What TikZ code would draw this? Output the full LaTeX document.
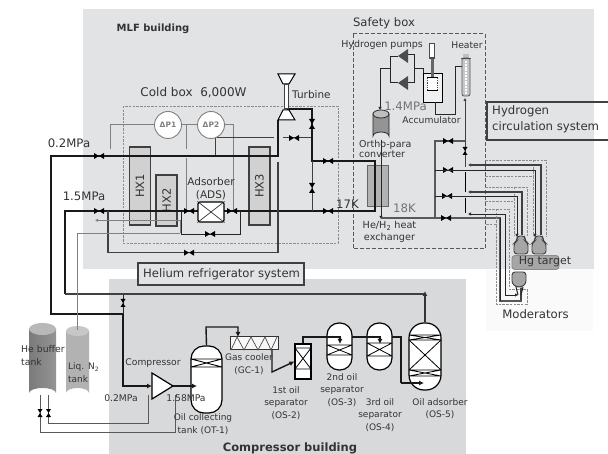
\documentclass[tikz,border=0pt]{standalone}
\usepackage{fontspec}
\setmainfont{DejaVu Sans}
\usetikzlibrary{arrows.meta}
\definecolor{mlfbg}{HTML}{E2E3E5}
\definecolor{compbg}{HTML}{D8D9DB}
\definecolor{pale}{HTML}{FAFAFA}
\definecolor{txt}{HTML}{333333}
\tikzset{
  lbl/.style={font=\fontsize{9.2}{11}\selectfont,text=txt,align=center,inner sep=0pt},
  lblbig/.style={font=\fontsize{11.7}{16}\selectfont,text=txt,align=left,inner sep=0pt},
  lblgray/.style={font=\fontsize{11.7}{12}\selectfont,text=black!55,inner sep=0pt},
  pipethick/.style={draw=black!90,line width=1.8pt},
  pipemid/.style={draw=black!75,line width=1.2pt},
  pipegray/.style={draw=black!50,line width=0.9pt},
  pipethin/.style={draw=black!85,line width=0.9pt},
  pipeflow/.style={draw=black!90,line width=1.4pt},
  dbox/.style={draw=black!45,line width=0.8pt,dash pattern=on 2.5pt off 1.2pt},
  sbox/.style={draw=black!65,line width=1pt,dash pattern=on 4pt off 2pt},
  hxbox/.style={draw=black!75,fill=black!18,line width=1.2pt,minimum width=21pt,inner sep=0pt,font=\fontsize{11.5}{12}\selectfont,text=txt},
  dpcirc/.style={circle,draw=black!50,fill=white,line width=0.9pt,minimum size=27pt,inner sep=0pt,font=\bfseries\fontsize{7.5}{8}\selectfont,text=black!50},
  vessel/.style={draw=black,fill=white,line width=1.2pt,inner sep=0pt},
  bulb/.style={draw=black!75,fill=black!35,line width=0.9pt,rounded corners=3pt},
  tip/.style={-{Latex[length=5pt,width=5pt]}},
  tipsmall/.style={-{Latex[length=3pt,width=3.5pt]}},
  vh/.pic={\fill[black] (-5,-3)--(5,3)--(5,-3)--(-5,3)--cycle;},
  vv/.pic={\fill[black] (-3,-5)--(3,5)--(-3,5)--(3,-5)--cycle;},
  vhs/.pic={\fill[black] (-4,-2.5)--(4,2.5)--(4,-2.5)--(-4,2.5)--cycle;},
  vvs/.pic={\fill[black] (-2.5,-4)--(2.5,4)--(-2.5,4)--(2.5,-4)--cycle;},
}
\begin{document}
\begin{tikzpicture}[x=1pt,y=-1pt]
\useasboundingbox (0,0) rectangle (608,454);
% building backgrounds
\fill[pale] (486,269) rectangle (593,331);
\fill[mlfbg] (83,9) rectangle (594,269);
\fill[compbg] (109,279) rectangle (466,454);
% boxes
\draw[dbox] (123,106) rectangle (338,243);
\draw[sbox] (353,34) rectangle (485,249);
\draw[draw=black!75,line width=1.2pt,fill=mlfbg] (138,263) rectangle (304,285);
\node[lbl,font=\fontsize{11.6}{12}\selectfont,anchor=west] (helium) at (143,274) {Helium refrigerator system};
\draw[draw=black!75,line width=1.2pt] (608,102) -- (487,102) -- (487,140) -- (608,140);
\node[lblbig,anchor=west] (hydsys) at (492,119) {Hydrogen\\circulation system};
% heat exchangers
\node[hxbox,minimum height=78pt] (hx1) at (140,186) {\rotatebox{90}{HX1}};
\node[hxbox,minimum height=51pt] (hx2) at (166.5,200.5) {\rotatebox{90}{HX2}};
\node[hxbox,minimum height=78pt] (hx3) at (259.5,186) {\rotatebox{90}{HX3}};
% gray signal lines
\draw[pipegray] (155,124) -- (110,124) -- (110,149);
\draw[pipegray] (181,124) -- (198,124);
\draw[pipegray] (186,124) -- (186,149) (186,158) -- (186,210);
\draw[pipegray] (224,124) -- (233,124) -- (233,210);
\draw[pipemid,line width=1pt] (215,137) -- (215,156);
\draw[pipemid,line width=1pt] (217,138) -- (274,138) (283,138) -- (312,138);
\node[dpcirc] (dp1) at (168,125) {ΔP1};
\node[dpcirc] (dp2) at (211,125) {ΔP2};
% 0.2 MPa line
\draw[pipethick] (123,314) -- (51,314) -- (51,156) -- (278,156) -- (278,120);
\draw[pipethin] (123,294) -- (123,314);
\draw[pipethick] (123,314) -- (123,386) -- (146,386);
\draw[pipethick,tip] (140,386) -- (152,386);
% 1.5 MPa line
\draw[pipethick] (65,294) -- (65,211) -- (198,211);
\draw[pipethick] (224,211) -- (375,211) -- (375,161) -- (312,161) -- (312,109) -- (287,109);
\draw[pipemid,line width=1pt] (312,161) -- (312,211);
\draw[pipemid] (65,294) -- (425,294);
% bypasses
\draw[pipemid] (108,211) -- (108,252.7) -- (278,252.7) -- (278,162);
\draw[pipethin] (181,211) -- (181,234) -- (240,234) -- (240,211);
\draw[pipegray,tipsmall] (180,233) -- (180,220.3) -- (95,220.3);
\draw[pipegray] (180,233) -- (77,233) -- (77,330);
% turbine
\draw[draw=black,line width=1pt,fill=white] (278,74) -- (295,74) -- (289,84) -- (283,84) -- cycle;
\draw[draw=black!75,fill=white,line width=0.9pt] (284,84) rectangle (288,108);
\draw[draw=black,line width=1pt,fill=white] (283,110) -- (289,110) -- (295,120) -- (278,120) -- cycle;
\node[lbl,anchor=west,font=\fontsize{10.5}{12}\selectfont] (turbine) at (292,95) {Turbine};
% adsorber
\node[draw=black,fill=white,rounded corners=2pt,line width=1.2pt,minimum width=26pt,minimum height=20pt,inner sep=0pt] (ads) at (211,212) {};
\draw[black!80,line width=0.7pt] (ads.north west) -- (ads.south east) (ads.north east) -- (ads.south west);
% valves on helium side
\pic at (99,156) {vh};
\pic at (99,211) {vh};
\pic at (189,211) {vh};
\pic at (232,211) {vh};
\pic at (210,234) {vh};
\pic at (189,252.7) {vh};
\pic at (294,138) {vh};
\pic at (312,124) {vv};
\pic at (328,161) {vh};
\pic at (312,188) {vv};
\pic at (328,211) {vh};
\pic at (123,303) {vvs};
\node[lbl,font=\fontsize{12}{12}\selectfont] (cold) at (193.5,93) {Cold box\ \ 6,000W};
\node[lblbig] (p02) at (69,143) {0.2MPa};
\node[lblbig] (p15) at (84,196) {1.5MPa};
\node[lbl,font=\fontsize{10.5}{13}\selectfont] (adslbl) at (211,189) {Adsorber\\(ADS)};
\node[lblgray,text=txt] (k17) at (347.5,204) {17K};
\node[lblgray] (k18) at (404.5,208) {18K};
\node[lbl,font=\bfseries\fontsize{10}{12}\selectfont] (mlf) at (153,29) {MLF building};
\node[lbl,font=\fontsize{11.6}{12}\selectfont] (safety) at (384,23) {Safety box};
% He/H2 exchanger
\node[draw=black!60,fill=black!30,line width=1pt,minimum width=21pt,minimum height=41pt,inner sep=0pt] (hehx) at (377.5,186.5) {};
\draw[pipethick] (375,161) -- (375,211);
% hydrogen loop
\draw[pipethin] (390,56) -- (390,82) -- (398,82);
\draw[pipethin] (390,56) -- (398,56);
\draw[pipethin] (407,54) -- (414,54) -- (414,82) -- (407,82);
\draw[pipethin] (414,68) -- (423,68) -- (423,73);
\draw[pipethin,tipsmall] (390,68) -- (380,68) -- (380,110);
\fill[black!70] (398,56) -- (408,49) -- (408,63) -- cycle;
\fill[black!70] (398,83) -- (408,76) -- (408,90) -- cycle;
% converter
\draw[draw=black!85,fill=black!42,line width=0.8pt] (373,114) -- (373,136) arc[x radius=8,y radius=4,start angle=180,end angle=360] -- (389,114) -- cycle;
\draw[draw=black!85,fill=black!25,line width=0.8pt] (381,114) ellipse[x radius=8,y radius=4];
\coordinate (conv) at (381,140);
\draw[pipethin,tipsmall] (conv) -- (381,219);
\draw[draw=black!65,line width=1.2pt] (381,218) -- (500,218) -- (500,301) -- (521,301) -- (521,288);
% accumulator
\node[draw=black,fill=black!6,line width=0.9pt,minimum width=19pt,minimum height=29pt,inner sep=0pt] (accum) at (432.5,87.5) {};
\fill[white] (427,78) rectangle (438,90);
\draw[black!70,line width=1.3pt,dash pattern=on 1pt off 0.8pt] (427.5,78) -- (427.5,90) (437.5,78) -- (437.5,90);
\draw[black,line width=0.8pt] (427,77) -- (438,77) (427,90) -- (438,90);
\fill[black!60] (430.5,59) rectangle (434,77);
\fill[black!70] (429,43) rectangle (435,59);
\fill[white] (430,44.5) rectangle (434,57.5);
% heater
\fill[black!25] (463,54) rectangle (469,59);
\node[draw=black!65,fill=black!22,rounded corners=2pt,line width=0.8pt,minimum width=8pt,minimum height=38pt,inner sep=0pt] (heater) at (466,77) {};
\draw[draw=black!70,line width=1pt] (461,59) -- (471,59);
\draw[draw=white,line width=1.2pt,dash pattern=on 2pt off 0.8pt] (466,61) -- (466,94);
\draw[pipethin] (accum.south) ++(2.5,0) -- (435,114) -- (455,114) -- (455,66) -- (462,66);
% manifold
\draw[draw=black!65,line width=1.1pt] (435,218) -- (435,141) -- (465,141);
\draw[pipemid,tipsmall,line width=0.9pt] (465,167) -- (465,98);
\draw[draw=black,line width=0.9pt] (465,172) -- (465,192) (465,198) -- (465,213);
\pic at (448,141) {vh};
\pic at (465,151) {vvs};
\pic at (448,170) {vh};
\pic at (447,196) {vh};
\pic at (446,218) {vh};
% dashed target lines
\draw[dbox] (485,160) -- (546,160) -- (546,236);
\draw[dbox] (485,176) -- (533,176) -- (533,236);
\draw[dbox] (533,160) -- (533,176);
\draw[dbox] (485,187) -- (527,187) -- (527,236);
\draw[dbox] (485,201) -- (514,201) -- (514,236);
\draw[dbox] (514,187) -- (514,201);
\draw[dbox] (485,209) -- (509,209) -- (509,289) -- (527,289) -- (527,304) -- (496,304) -- (496,224) -- (485,224);
\draw[dbox] (496,209) -- (496,224);
% H2 supply/return lines
\draw[pipemid,tipsmall] (541,235) -- (541,165) -- (468,165);
\draw[pipethin,tipsmall] (435,170) -- (535,170) -- (535,237);
\draw[pipemid,tipsmall] (522,235) -- (522,192) -- (468,192);
\draw[pipethin,tipsmall] (435,196) -- (517,196) -- (517,237);
\draw[pipethin,tipsmall] (505,214) -- (468,214);
\draw[pipethin,tipsmall] (505,214) -- (505,295) -- (518,295);
\draw[pipemid,tipsmall] (521,300) -- (521,287);
\draw[pipethin] (500,218) -- (500,301);
% target vessels
\draw[bulb] (517,236) -- (525,236) -- (525,241) -- (528,243) -- (528,254) -- (514,254) -- (514,243) -- (517,241) -- cycle;
\draw[bulb] (535,236) -- (543,236) -- (543,241) -- (546,243) -- (546,254) -- (532,254) -- (532,243) -- (535,241) -- cycle;
\node[draw=black!45,fill=black!35,rounded corners=3pt,line width=0.9pt,minimum width=47pt,minimum height=14pt,inner sep=0pt] (hg) at (535.5,262.5) {};
\draw[bulb] (512,272) -- (526,272) -- (526,284) -- (521,287) -- (517,287) -- (512,284) -- cycle;
\draw[draw=black!85,line width=1pt] (516,287) -- (518,295) (523,287) -- (521,295);
\node[lblbig,font=\fontsize{11}{12}\selectfont] (hgl) at (545,262) {Hg target};
\node[lblbig] (modl) at (535.5,314) {Moderators};
% safety box labels
\node[lbl,font=\fontsize{9.5}{11}\selectfont] (pumps) at (382,45) {Hydrogen pumps};
\node[lbl] (heatl) at (467,45) {Heater};
\node[lblgray] (p14) at (405.5,106) {1.4MPa};
\node[lbl] (acl) at (431.5,120) {Accumulator};
\node[lbl,anchor=west,align=left,font=\fontsize{9.5}{10}\selectfont] (conl) at (359,149) {Ortho-para\\converter};
\node[lbl,font=\fontsize{9.7}{12}\selectfont] (hexl) at (389.5,232) {He/H\textsubscript{2} heat\\exchanger};
% He buffer and N2 tanks
\draw[draw=black!65,line width=1pt] (40,395) -- (40,432) -- (175,432) -- (175,395);
\draw[draw=black!65,line width=1pt] (48,395) -- (48,423) -- (148,423) -- (148,395);
\shade[left color=black!52,right color=black!42] (29,329) -- (29,393) arc[x radius=13.5,y radius=5,start angle=180,end angle=360] -- (56,329) -- cycle;
\fill[black!28] (42.5,329) ellipse[x radius=13.5,y radius=6];
\fill[black!30] (66,331) -- (66,393) arc[x radius=11.5,y radius=5,start angle=180,end angle=360] -- (89,331) -- cycle;
\fill[black!22] (77.5,331) ellipse[x radius=11.5,y radius=5];
\draw[pipegray] (77,280) -- (77,330);
\pic at (40,413) {vvs};
\pic at (48.5,413) {vvs};
\node[lbl,align=left,anchor=west,font=\fontsize{9.3}{13}\selectfont] (hel) at (21,356) {He buffer\\tank};
\node[lbl,align=left,anchor=west,font=\fontsize{9}{13}\selectfont] (n2l) at (68,373) {Liq. N\textsubscript{2}\\tank};
% compressor
\draw[draw=black,fill=white,line width=1.2pt] (152,373) -- (173,386) -- (152,399) -- cycle;
% vessels
\node[vessel,rounded corners=13pt,minimum width=31pt,minimum height=67pt] (ot1) at (206.5,379.5) {};
\draw[black,line width=0.9pt] (191,359) -- (222,359) (191,367) -- (222,367) (191,359) -- (222,367) (191,367) -- (222,359);
\node[draw=black!80,fill=black!3,line width=1pt,minimum width=48pt,minimum height=13pt,inner sep=0pt] (gc) at (254,343.5) {};
\draw[black!70,line width=0.7pt] (231,350) -- (237,337) -- (244,350) -- (251,337) -- (258,350) -- (265,337) -- (271,350) -- (277,337);
\node[vessel,minimum width=16pt,minimum height=35pt] (os2) at (303,361.5) {};
\draw[black,line width=0.8pt] (295,348) -- (311,348) (295,369) -- (311,369) (295,348) -- (311,369) (295,369) -- (311,348);
\node[vessel,rounded corners=12pt,minimum width=25pt,minimum height=47pt] (os3) at (339.5,346.5) {};
\draw[black,line width=0.8pt] (327,345) -- (352,345) (327,355) -- (352,355) (327,345) -- (352,355) (327,355) -- (352,345);
\node[vessel,rounded corners=12pt,minimum width=25pt,minimum height=47pt] (os4) at (379.5,346.5) {};
\draw[black,line width=0.8pt] (367,343) -- (392,343) (367,356) -- (392,356) (367,343) -- (392,356) (367,356) -- (392,343);
\node[vessel,rounded corners=15pt,minimum width=32pt,minimum height=67pt] (os5) at (425,356.5) {};
\draw[black,line width=0.8pt] (409,335) -- (441,335) (409,340) -- (441,340) (409,335) -- (441,340) (409,340) -- (441,335) (409,370) -- (441,370) (409,376) -- (441,376) (409,370) -- (441,376) (409,376) -- (441,370) (409,340) -- (441,370) (409,370) -- (441,340);
% flow pipes between vessels
\draw[pipethick,tip] (173,386) -- (197,386);
\draw[pipeflow,tip] (ot1.north) -- (206,327) -- (238,327) -- (238,337);
\draw[pipeflow,tip] (272,350) -- (272,372) -- (os2.west);
\draw[pipeflow,tip] (os2.north) -- (303,337) -- (340,337) -- (340,344);
\draw[pipeflow,tip] (352,337) -- (380,337) -- (380,344);
\draw[pipeflow] (392,337) -- (401,337) -- (401,383);
\draw[pipeflow,tip] (401,383) -- (424,383);
\draw[draw=black!80,line width=1.2pt,tip] (os5.north) -- (425,291);
% compressor building labels
\node[lbl] (compl) at (153,363) {Compressor};
\node[lbl] (p02b) at (121,398) {0.2MPa};
\node[lbl] (p158) at (186,398.5) {1.58MPa};
\node[lbl,font=\fontsize{9}{13}\selectfont] (otl) at (203,424) {Oil collecting\\tank (OT-1)};
\node[lbl,font=\fontsize{9}{13}\selectfont] (gcl) at (249,364) {Gas cooler\\(GC-1)};
\node[lbl,font=\fontsize{9}{12.5}\selectfont] (os2l) at (286,403) {1st oil\\separator\\(OS-2)};
\node[lbl,font=\fontsize{9}{12.5}\selectfont] (os3l) at (342,390) {2nd oil\\separator\\(OS-3)};
\node[lbl,font=\fontsize{9}{12.5}\selectfont] (os4l) at (380,415) {3rd oil\\separator\\(OS-4)};
\node[lbl,font=\fontsize{9}{12.5}\selectfont] (os5l) at (440,408.5) {Oil adsorber\\(OS-5)};
\node[lbl,font=\bfseries\fontsize{11.5}{12}\selectfont] (compb) at (290,448) {Compressor building};
\end{tikzpicture}
\end{document}
